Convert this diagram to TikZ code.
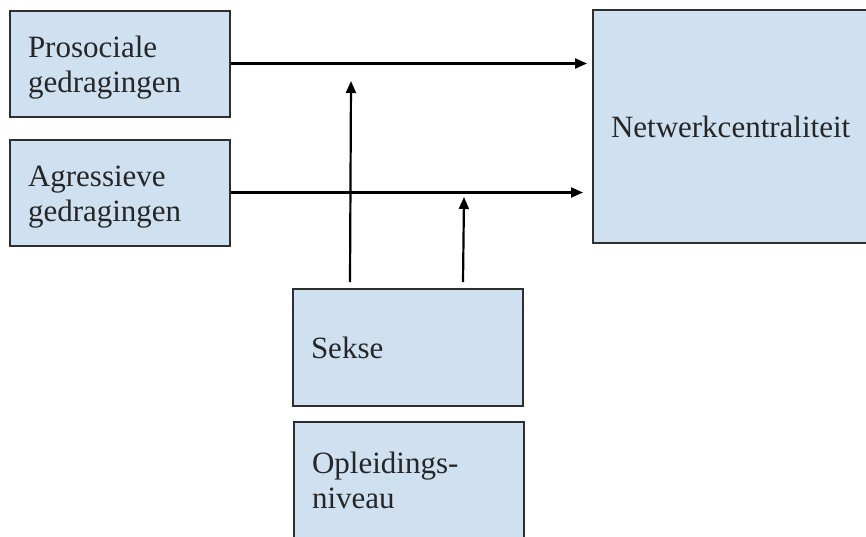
\documentclass[tikz,border=0pt]{standalone}
\usepackage{fontspec}
\setmainfont{Liberation Serif}
\usetikzlibrary{arrows.meta}
\definecolor{boxfill}{HTML}{CFE0F1}
\definecolor{boxline}{HTML}{2E2E2E}
\newcommand{\upstrut}{\rule{0pt}{29pt}}
\begin{document}
\begin{tikzpicture}[x=1pt,y=-1pt,
  box/.style={draw=boxline, line width=2pt, fill=boxfill, rectangle, inner xsep=18pt, inner ysep=0pt,
    align=left, font=\fontsize{31}{35}\selectfont, text=black!85},
  arr/.style={draw=black, line width=2.2pt, -{Triangle[length=12pt,width=10pt]}}]
\clip (0,0) rectangle (866,536);
\fill[white] (0,0) rectangle (866,536);
\node[box, minimum width=220pt, minimum height=106pt, text width=184pt] (pro) at (120,63.5) {\upstrut Prosociale\\gedragingen};
\node[box, minimum width=220pt, minimum height=106pt, text width=184pt] (agr) at (120,192.5) {\upstrut Agressieve\\gedragingen};
\node[box, minimum width=290pt, minimum height=233pt, text width=254pt] (net) at (738,126.5) {Netwerkcentraliteit};
\node[box, minimum width=230pt, minimum height=117pt, text width=194pt] (sek) at (408,347.5) {Sekse};
\node[box, minimum width=230pt, minimum height=116pt, text width=194pt] (opl) at (409,480) {Opleidings-\\niveau};
\coordinate (s1) at ([xshift=58pt,yshift=6pt]sek.north west);
\coordinate (s2) at ([xshift=171pt,yshift=6pt]sek.north west);
\coordinate (t1) at (351,81);
\coordinate (t2) at (464,197);
\draw[arr, shorten >=5pt] (pro.east) -- (pro.east -| net.west);
\draw[arr, shorten >=9pt] (agr.east) -- (agr.east -| net.west);
\draw[arr] (s1) -- (t1);
\draw[arr] (s2) -- (t2);
\end{tikzpicture}
\end{document}
